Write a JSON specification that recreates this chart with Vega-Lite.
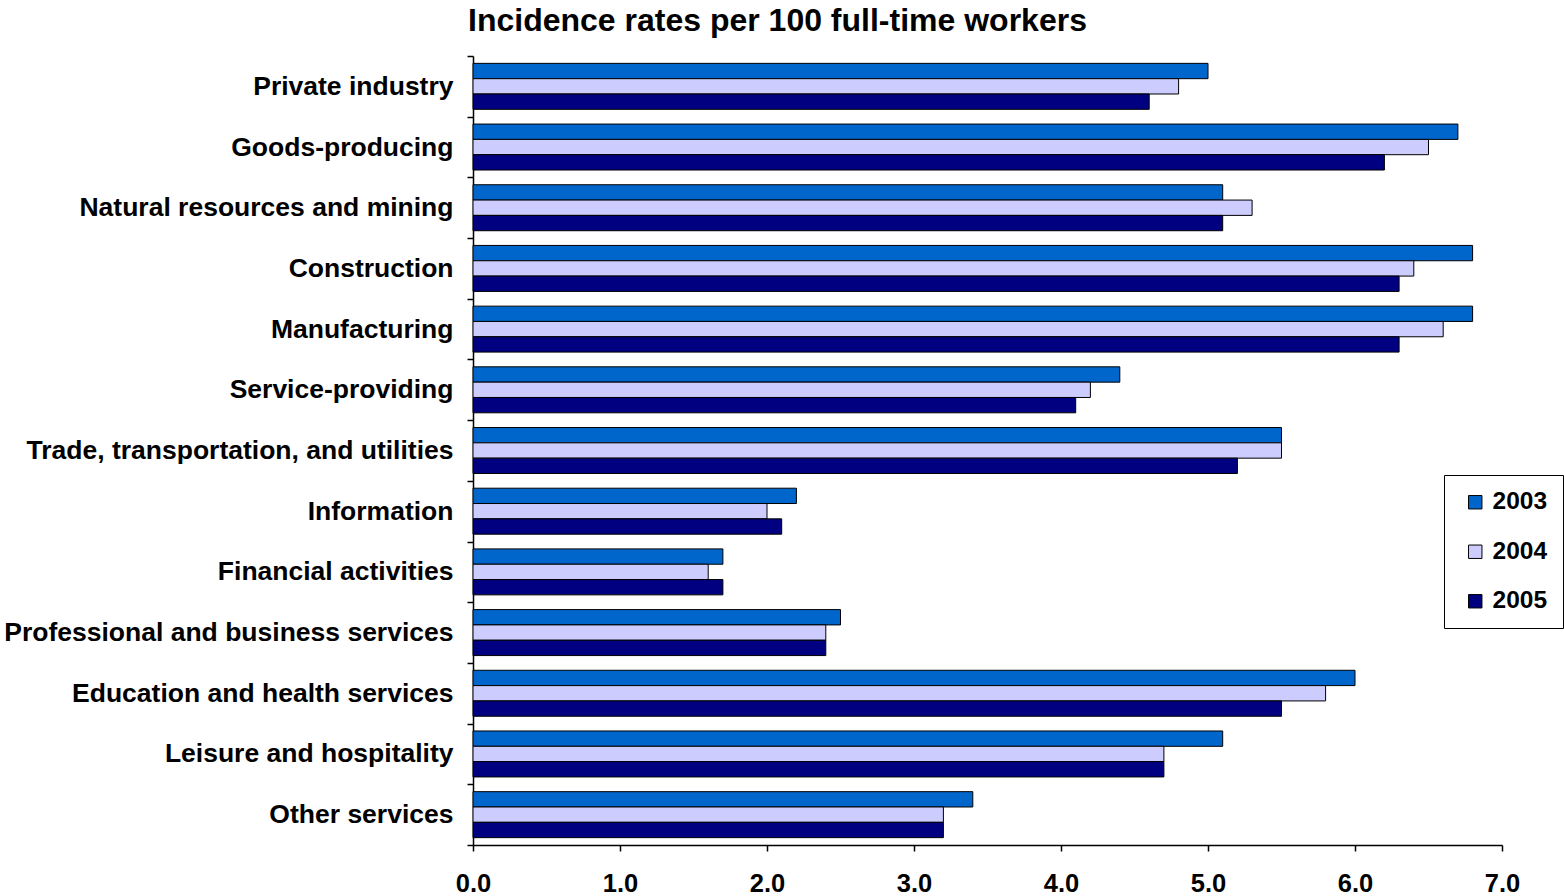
{
  "$schema": "https://vega.github.io/schema/vega-lite/v6.json",
  "autosize": "none",
  "width": 1029,
  "height": 789,
  "padding": {"left": 473, "top": 56, "right": 62, "bottom": 51},
  "background": "white",
  "title": {
    "text": "Incidence rates per 100 full-time workers",
    "anchor": "start",
    "frame": "group",
    "dx": -5,
    "offset": 5,
    "font": "Liberation Sans",
    "fontSize": 32,
    "fontWeight": "bold",
    "color": "black"
  },
  "data": {
    "values": [
      {"industry": "Private industry", "year": "2003", "rate": 5.0},
      {"industry": "Private industry", "year": "2004", "rate": 4.8},
      {"industry": "Private industry", "year": "2005", "rate": 4.6},
      {"industry": "Goods-producing", "year": "2003", "rate": 6.7},
      {"industry": "Goods-producing", "year": "2004", "rate": 6.5},
      {"industry": "Goods-producing", "year": "2005", "rate": 6.2},
      {"industry": "Natural resources and mining", "year": "2003", "rate": 5.1},
      {"industry": "Natural resources and mining", "year": "2004", "rate": 5.3},
      {"industry": "Natural resources and mining", "year": "2005", "rate": 5.1},
      {"industry": "Construction", "year": "2003", "rate": 6.8},
      {"industry": "Construction", "year": "2004", "rate": 6.4},
      {"industry": "Construction", "year": "2005", "rate": 6.3},
      {"industry": "Manufacturing", "year": "2003", "rate": 6.8},
      {"industry": "Manufacturing", "year": "2004", "rate": 6.6},
      {"industry": "Manufacturing", "year": "2005", "rate": 6.3},
      {"industry": "Service-providing", "year": "2003", "rate": 4.4},
      {"industry": "Service-providing", "year": "2004", "rate": 4.2},
      {"industry": "Service-providing", "year": "2005", "rate": 4.1},
      {"industry": "Trade, transportation, and utilities", "year": "2003", "rate": 5.5},
      {"industry": "Trade, transportation, and utilities", "year": "2004", "rate": 5.5},
      {"industry": "Trade, transportation, and utilities", "year": "2005", "rate": 5.2},
      {"industry": "Information", "year": "2003", "rate": 2.2},
      {"industry": "Information", "year": "2004", "rate": 2.0},
      {"industry": "Information", "year": "2005", "rate": 2.1},
      {"industry": "Financial activities", "year": "2003", "rate": 1.7},
      {"industry": "Financial activities", "year": "2004", "rate": 1.6},
      {"industry": "Financial activities", "year": "2005", "rate": 1.7},
      {"industry": "Professional and business services", "year": "2003", "rate": 2.5},
      {"industry": "Professional and business services", "year": "2004", "rate": 2.4},
      {"industry": "Professional and business services", "year": "2005", "rate": 2.4},
      {"industry": "Education and health services", "year": "2003", "rate": 6.0},
      {"industry": "Education and health services", "year": "2004", "rate": 5.8},
      {"industry": "Education and health services", "year": "2005", "rate": 5.5},
      {"industry": "Leisure and hospitality", "year": "2003", "rate": 5.1},
      {"industry": "Leisure and hospitality", "year": "2004", "rate": 4.7},
      {"industry": "Leisure and hospitality", "year": "2005", "rate": 4.7},
      {"industry": "Other services", "year": "2003", "rate": 3.4},
      {"industry": "Other services", "year": "2004", "rate": 3.2},
      {"industry": "Other services", "year": "2005", "rate": 3.2}
    ]
  },
  "mark": {"type": "bar", "stroke": "black", "strokeWidth": 1},
  "encoding": {
    "y": {
      "field": "industry",
      "type": "nominal",
      "sort": null,
      "scale": {"paddingInner": 0, "paddingOuter": 0},
      "axis": {
        "title": null,
        "domainColor": "black",
        "domainWidth": 1.5,
        "tickColor": "black",
        "tickWidth": 1.5,
        "tickSize": 6,
        "tickBand": "extent",
        "labelFont": "Liberation Sans",
        "labelFontSize": 26.5,
        "labelFontWeight": "bold",
        "labelColor": "black",
        "labelPadding": 14,
        "labelLimit": 600
      }
    },
    "yOffset": {
      "field": "year",
      "type": "nominal",
      "scale": {"paddingInner": 0, "paddingOuter": 0.48}
    },
    "x": {
      "field": "rate",
      "type": "quantitative",
      "scale": {"domain": [0, 7], "nice": false},
      "axis": {
        "title": null,
        "values": [0, 1, 2, 3, 4, 5, 6, 7],
        "format": ".1f",
        "grid": false,
        "domainColor": "black",
        "domainWidth": 1.5,
        "tickColor": "black",
        "tickWidth": 1.5,
        "tickSize": 6,
        "labelFont": "Liberation Sans",
        "labelFontSize": 25.5,
        "labelFontWeight": "bold",
        "labelColor": "black",
        "labelPadding": 20,
        "labelFlush": false
      }
    },
    "color": {
      "field": "year",
      "type": "nominal",
      "scale": {"domain": ["2003", "2004", "2005"], "range": ["#0066CC", "#CCCCFF", "#000080"]},
      "legend": {
        "title": null,
        "orient": "none",
        "legendX": 971,
        "legendY": 419,
        "direction": "vertical",
        "strokeColor": "black",
        "fillColor": "white",
        "padding": 15,
        "symbolType": "square",
        "symbolSize": 180,
        "symbolOffset": 4,
        "symbolStrokeColor": "black",
        "symbolStrokeWidth": 1,
        "labelFont": "Liberation Sans",
        "labelFontSize": 24.5,
        "labelFontWeight": "bold",
        "labelColor": "black",
        "labelOffset": 5,
        "rowPadding": 24.5
      }
    }
  },
  "config": {"view": {"stroke": null}}
}
